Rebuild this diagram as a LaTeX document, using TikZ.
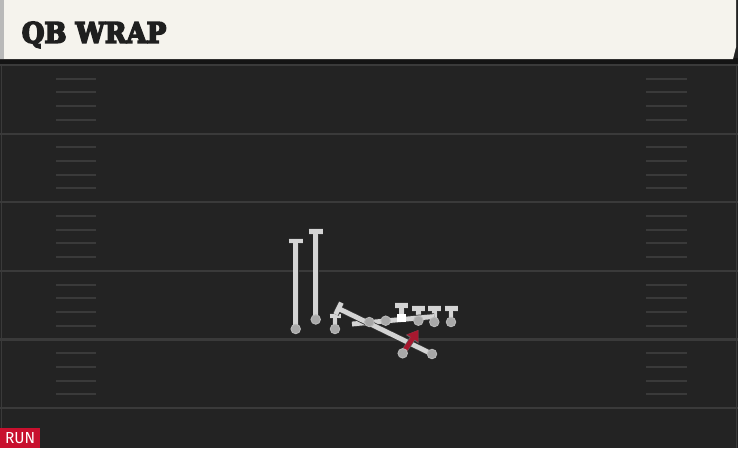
\documentclass[tikz,border=0pt]{standalone}
\usepackage{fontspec}
\newfontfamily\titlefont{DejaVu Serif}
\newfontfamily\runfont{Fira Sans}
\usetikzlibrary{arrows.meta,calc}
\definecolor{field}{HTML}{232323}
\definecolor{cream}{HTML}{F5F3ED}
\definecolor{yardline}{HTML}{3A3A3A}
\definecolor{hashline}{HTML}{3A3A3A}
\definecolor{routegray}{HTML}{D4D4D4}
\definecolor{playergray}{HTML}{A8A8A8}
\definecolor{runred}{HTML}{C8102E}
\definecolor{arrowred}{HTML}{A8182F}
\pgfdeclarelayer{bg}
\pgfdeclarelayer{routes}
\pgfsetlayers{bg,routes,main}
\tikzset{
  yard/.style={draw=yardline, line width=2.2pt},
  hash/.style={draw=hashline, line width=2pt},
  edgeline/.style={draw=yardline, line width=1.5pt},
  route/.style={draw=routegray, line width=4.8pt,
    preaction={draw=black!80, line width=6.4pt}},
  redroute/.style={draw=arrowred, line width=4.6pt, -{Triangle[length=10pt,width=13pt]},
    preaction={draw=black!60, line width=5.8pt, -{Triangle[length=11pt,width=14.5pt]}}},
  player/.style={circle, fill=playergray, draw=gray!55, line width=0.9pt, minimum size=9.5pt, inner sep=0pt},
  center/.style={rectangle, fill=white, minimum width=8.5pt, minimum height=8pt, inner sep=0pt},
}
\begin{document}
\begin{tikzpicture}[x=1pt,y=-1pt]
\useasboundingbox (0,0) rectangle (738,448);
\begin{pgfonlayer}{bg}
  \fill[field] (0,0) rectangle (738,448);
  \fill[black!92] (0,58) rectangle (738,65);
  \fill[cream] (0,0) -- (736,0) -- (736,47) -- (733,59) -- (0,59) -- cycle;
  \fill[gray!55] (0,0) rectangle (4,59);
  \draw[edgeline] (1.5,65) -- (1.5,448);
  \draw[edgeline] (736.5,65) -- (736.5,448);
  \foreach \i in {0,...,5} {
    \draw[yard] (0,{65+68.6*\i}) -- (738,{65+68.6*\i});
  }
  \foreach \i in {0,...,4} {
    \foreach \j in {1,...,4} {
      \draw[hash] (56,{65+68.6*\i+13.72*\j}) -- (96,{65+68.6*\i+13.72*\j});
      \draw[hash] (646,{65+68.6*\i+13.72*\j}) -- (687,{65+68.6*\i+13.72*\j});
    }
  }
\end{pgfonlayer}

% title and tag
\node[anchor=base west, inner sep=0pt, text=black!88] (title) at (21.6,42.8)
  {\resizebox{144.5pt}{21pt}{\special{pdf:literal 2 Tr 0.6 w}\titlefont\bfseries QB WRAP\special{pdf:literal 0 Tr 1 w}}};
\node[fill=runred, minimum width=40pt, minimum height=20pt, inner sep=0pt,
      anchor=south west, text=white] (runtag) at (0,448)
  {\resizebox{30pt}{11pt}{\runfont RUN}};

% players
\node[player] (wra) at (295.7,329) {};
\node[player] (wrb) at (315.7,319.5) {};
\node[player] (te) at (335,329) {};
\node[player] (back) at (432,354) {};
\node[player] (lt) at (369.3,322) {};
\node[player] (lg) at (385.7,320.7) {};
\node[center] (c) at (401.7,318.3) {};
\node[player] (rg) at (418.4,320.7) {};
\node[player] (rt) at (434.3,322) {};
\node[player] (tr) at (451,322) {};
\node[player] (qb) at (402.7,353.3) {};

% route ends
\coordinate (wrae) at (295.7,241);
\coordinate (wrbe) at (315.7,231.5);
\coordinate (tee) at (335,316);
\coordinate (backe) at (338.5,308.5);
\coordinate (linea) at (352,324);
\coordinate (lineb) at (434.3,316.5);
\coordinate (ce) at (401.7,305.5);
\coordinate (rge) at (418.4,308.5);
\coordinate (rte) at (434.3,308.5);
\coordinate (tre) at (451,308.5);
\coordinate (qbe) at (418.3,330);

\begin{pgfonlayer}{routes}
  \draw[route] (wra.center) -- (wrae) ([xshift=-7pt]wrae) -- ([xshift=7pt]wrae);
  \draw[route] (wrb.center) -- (wrbe) ([xshift=-7pt]wrbe) -- ([xshift=7pt]wrbe);
  \draw[route] (te.center) -- (tee) ([xshift=-5.5pt]tee) -- ([xshift=5.5pt]tee);
  \draw[route] (c.center) -- (ce) ([xshift=-6.5pt]ce) -- ([xshift=6.5pt]ce);
  \draw[route] (rg.center) -- (rge) ([xshift=-6.5pt]rge) -- ([xshift=6.5pt]rge);
  \draw[route] (rt.center) -- (rte) ([xshift=-6.5pt]rte) -- ([xshift=6.5pt]rte);
  \draw[route] (tr.center) -- (tre) ([xshift=-6.5pt]tre) -- ([xshift=6.5pt]tre);
  \draw[route] (linea) -- (lineb);
  \draw[route] (back.center) -- (backe)
    ($(backe)!6.5pt!90:(back.center)$) -- ($(backe)!6.5pt!-90:(back.center)$);
  \draw[redroute] (qb.center) -- (qbe);
\end{pgfonlayer}
\end{tikzpicture}
\end{document}
